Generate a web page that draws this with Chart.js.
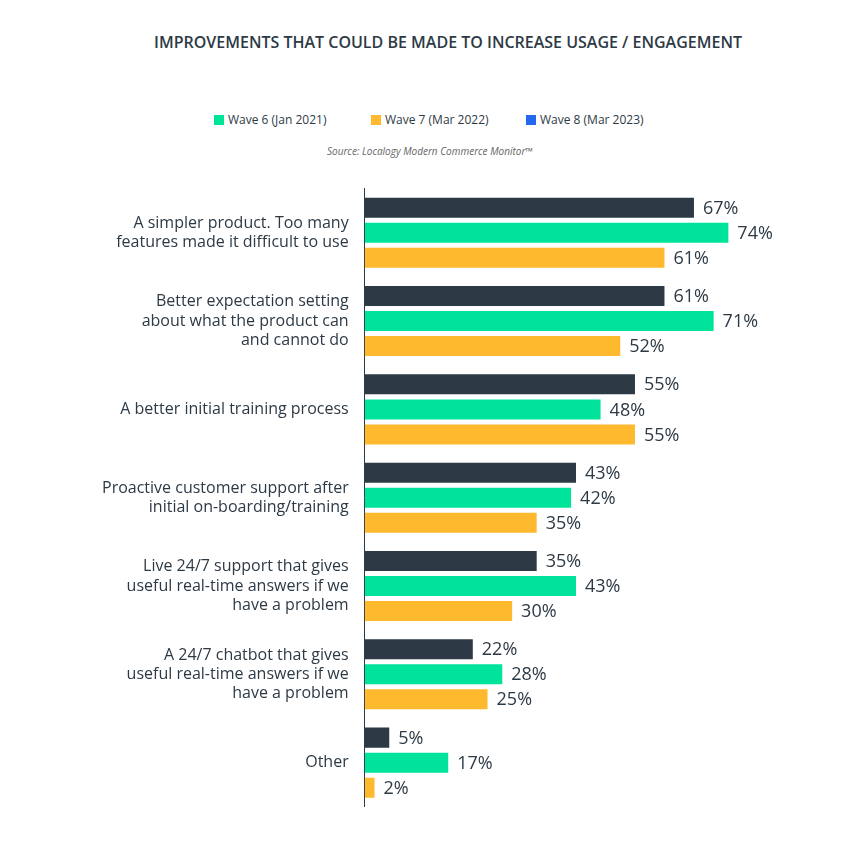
<!DOCTYPE html>
<html><head><meta charset="utf-8">
<script src="https://cdn.jsdelivr.net/npm/chart.js@4"></script>
<style>
body{margin:0;background:#fff;font-family:"Source Sans Pro","Open Sans",sans-serif;color:#2d3a45}
.wrap{position:relative;width:843px;height:841px;overflow:hidden}
.title{position:absolute;top:31px;left:0;width:896px;text-align:center;font-weight:600;font-size:16px;letter-spacing:0px}
.legend{position:absolute;top:111px;left:214px;font-size:12px}
.legend span{position:absolute;white-space:nowrap}
.legend i{display:inline-block;width:10px;height:10px;margin-right:4px;vertical-align:-1px}
.src{position:absolute;top:144px;left:0;width:860px;text-align:center;font-size:10px;font-style:italic;color:#666}
.chart{position:absolute;top:163px;left:0;width:843px;height:679px}
</style></head><body>
<div class="wrap">
<div class="title">IMPROVEMENTS THAT COULD BE MADE TO INCREASE USAGE / ENGAGEMENT</div>
<div class="legend">
<span style="left:0"><i style="background:#00e39a"></i>Wave 6 (Jan 2021)</span>
<span style="left:157px"><i style="background:#ffb92e"></i>Wave 7 (Mar 2022)</span>
<span style="left:312px"><i style="background:#2468f0"></i>Wave 8 (Mar 2023)</span>
</div>
<div class="src">Source: Localogy Modern Commerce Monitor™</div>
<div class="chart"><canvas id="c"></canvas></div>
</div>
<script>
const categories = [
  ["A simpler product. Too many", "features made it difficult to use"],
  ["Better expectation setting", "about what the product can", "and cannot do"],
  "A better initial training process",
  ["Proactive customer support after", "initial on-boarding/training"],
  ["Live 24/7 support that gives", "useful real-time answers if we", "have a problem"],
  ["A 24/7 chatbot that gives", "useful real-time answers if we", "have a problem"],
  "Other"
];
const wave8 = [67, 61, 55, 43, 35, 22, 5];
const wave6 = [74, 71, 48, 42, 43, 28, 17];
const wave7 = [61, 52, 55, 35, 30, 25, 2];

const valueLabels = {
  id: "valueLabels",
  afterDatasetsDraw(chart) {
    const ctx = chart.ctx;
    ctx.save();
    ctx.font = "18px 'Source Sans Pro','Open Sans',sans-serif";
    ctx.fillStyle = "#2d3a45";
    ctx.textBaseline = "middle";
    chart.data.datasets.forEach((ds, i) => {
      chart.getDatasetMeta(i).data.forEach((bar, j) => {
        ctx.fillText(ds.data[j] + "%", bar.x + 9, bar.y + 1);
      });
    });
    ctx.restore();
  }
};

new Chart("c", {
  type: "bar",
  data: {
    labels: categories,
    datasets: [
      { label: "Wave 8 (Mar 2023)", data: wave8, backgroundColor: "#2d3a45" },
      { label: "Wave 6 (Jan 2021)", data: wave6, backgroundColor: "#00e39a" },
      { label: "Wave 7 (Mar 2022)", data: wave7, backgroundColor: "#ffb92e" }
    ]
  },
  options: {
    indexAxis: "y",
    responsive: true,
    maintainAspectRatio: false,
    animation: false,
    layout: { padding: { left: 86, right: 36, top: 0, bottom: 0 } },
    datasets: { bar: { categoryPercentage: 0.85, barPercentage: 0.8 } },
    plugins: { legend: { display: false }, tooltip: { enabled: false } },
    scales: {
      x: { min: 0, max: 90, display: false, grid: { display: false } },
      y: {
        grid: { display: false, drawTicks: false },
        border: { color: "#2d3a45", width: 1 },
        ticks: { color: "#2d3a45", padding: 16, font: { size: 16, family: "'Source Sans Pro','Open Sans',sans-serif" } }
      }
    }
  },
  plugins: [valueLabels]
});
</script>
</body></html>
